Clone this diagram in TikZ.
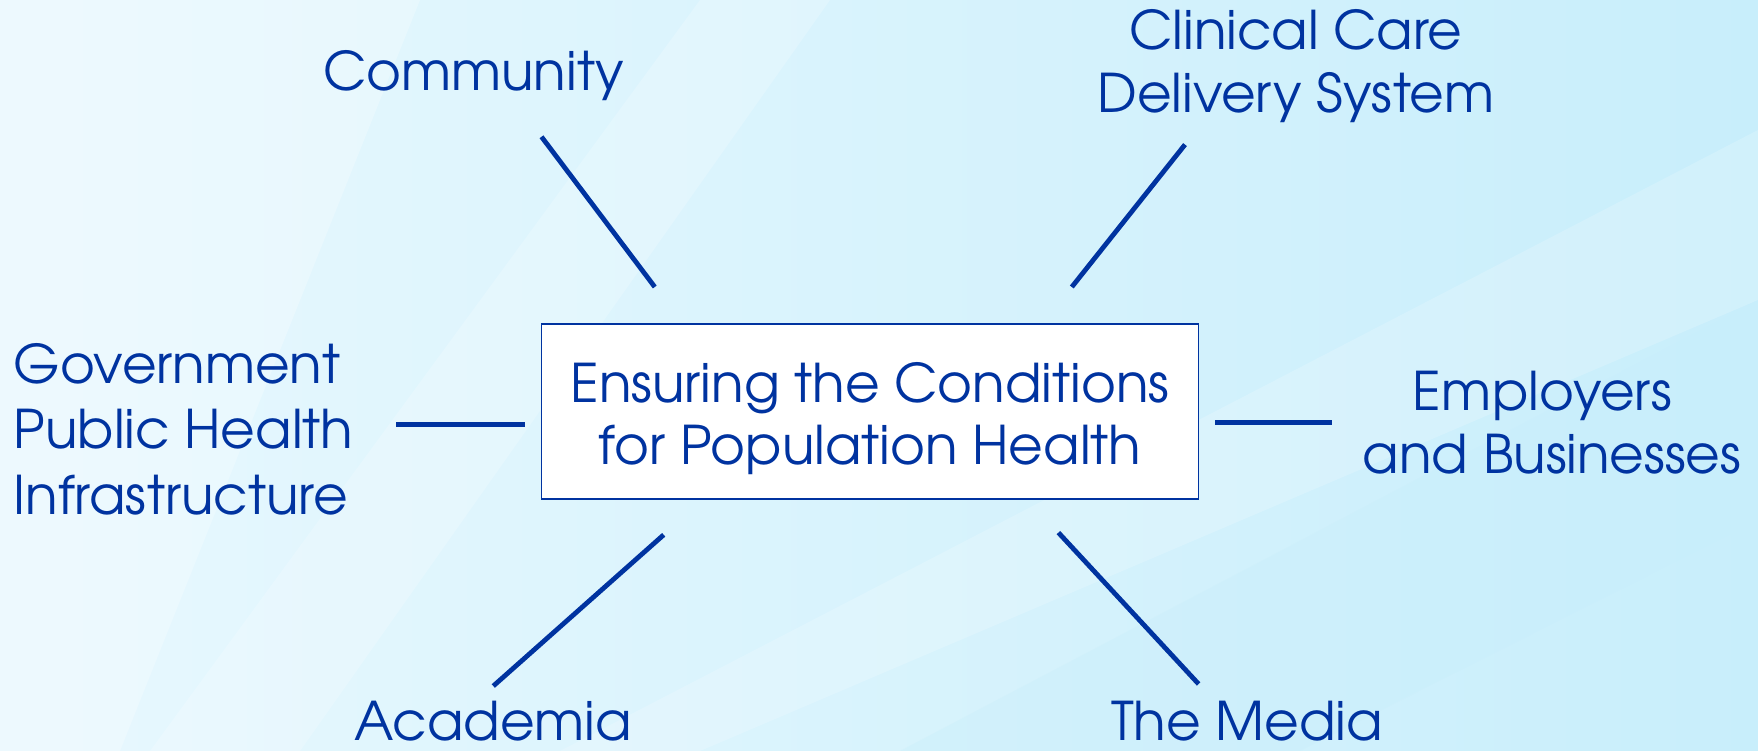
\documentclass[tikz,border=0pt]{standalone}
\usepackage{fontspec}
\setmainfont{TeX Gyre Adventor}
\usetikzlibrary{positioning}
\definecolor{ink}{RGB}{0,51,160}
\definecolor{bgL}{RGB}{232,248,254}
\definecolor{bgR}{RGB}{200,238,251}
\tikzset{
  lbl/.style={text=ink, font=\fontsize{53.5}{63}\selectfont, align=center, inner sep=0pt, anchor=base},
  spoke/.style={draw=ink, line width=4.8bp},
  centrebox/.style={draw=ink, line width=1.5bp, fill=white, minimum width=657bp, minimum height=175bp, inner sep=0pt},
  boxtext/.style={text=ink, font=\fontsize{53.5}{62}\selectfont, align=center, inner sep=0pt, anchor=base}
}
\begin{document}
\begin{tikzpicture}[x=1bp,y=-1bp]
\useasboundingbox (0,0) rectangle (1758,751);
\shade[left color=bgL, right color=bgR] (0,0) rectangle (1758,751);
\fill[white, opacity=0.25] (0,0) -- (420,0) -- (120,751) -- (0,751) -- cycle;
\fill[white, opacity=0.2] (700,0) -- (830,0) -- (300,751) -- (150,751) -- cycle;
\fill[white, opacity=0.18] (1758,130) -- (1758,300) -- (700,751) -- (560,751) -- cycle;
\fill[bgR, opacity=0.35] (1758,300) -- (1758,520) -- (1300,751) -- (900,751) -- cycle;

\node[centrebox] (box) at (870,411.5) {};
\node[boxtext] (boxlbl) at (870,464) {Ensuring the Conditions\\for Population Health};

\node[lbl] (comm) at (473.5,90) {Community};
\node[lbl] (clin) at (1296,112) {Clinical Care\\Delivery System};
\node[lbl, align=left, anchor=base west, font=\fontsize{53.5}{65.5}\selectfont] (gov) at (13.5,514) {Government\\Public Health\\Infrastructure};
\node[lbl] (emp) at (1552,473) {Employers\hspace*{19bp}\\and Businesses};
\node[lbl] (acad) at (493,740) {Academia};
\node[lbl] (media) at (1247,740) {The Media};

\coordinate (c1) at (541.5,136.8); \coordinate (c2) at (654.8,287);
\coordinate (k1) at (1185,144.6);  \coordinate (k2) at (1071.8,287);
\coordinate (g1) at (396,424.7);   \coordinate (g2) at (524.7,424.7);
\coordinate (e1) at (1215.4,422.7); \coordinate (e2) at (1332,422.7);
\coordinate (a1) at (663.7,534.8); \coordinate (a2) at (493.3,686);
\coordinate (m1) at (1058.4,532.6); \coordinate (m2) at (1198.6,684);

\draw[spoke] (c1) -- (c2);
\draw[spoke] (k1) -- (k2);
\draw[spoke] (g1) -- (g2);
\draw[spoke] (e1) -- (e2);
\draw[spoke] (a1) -- (a2);
\draw[spoke] (m1) -- (m2);
\end{tikzpicture}
\end{document}
